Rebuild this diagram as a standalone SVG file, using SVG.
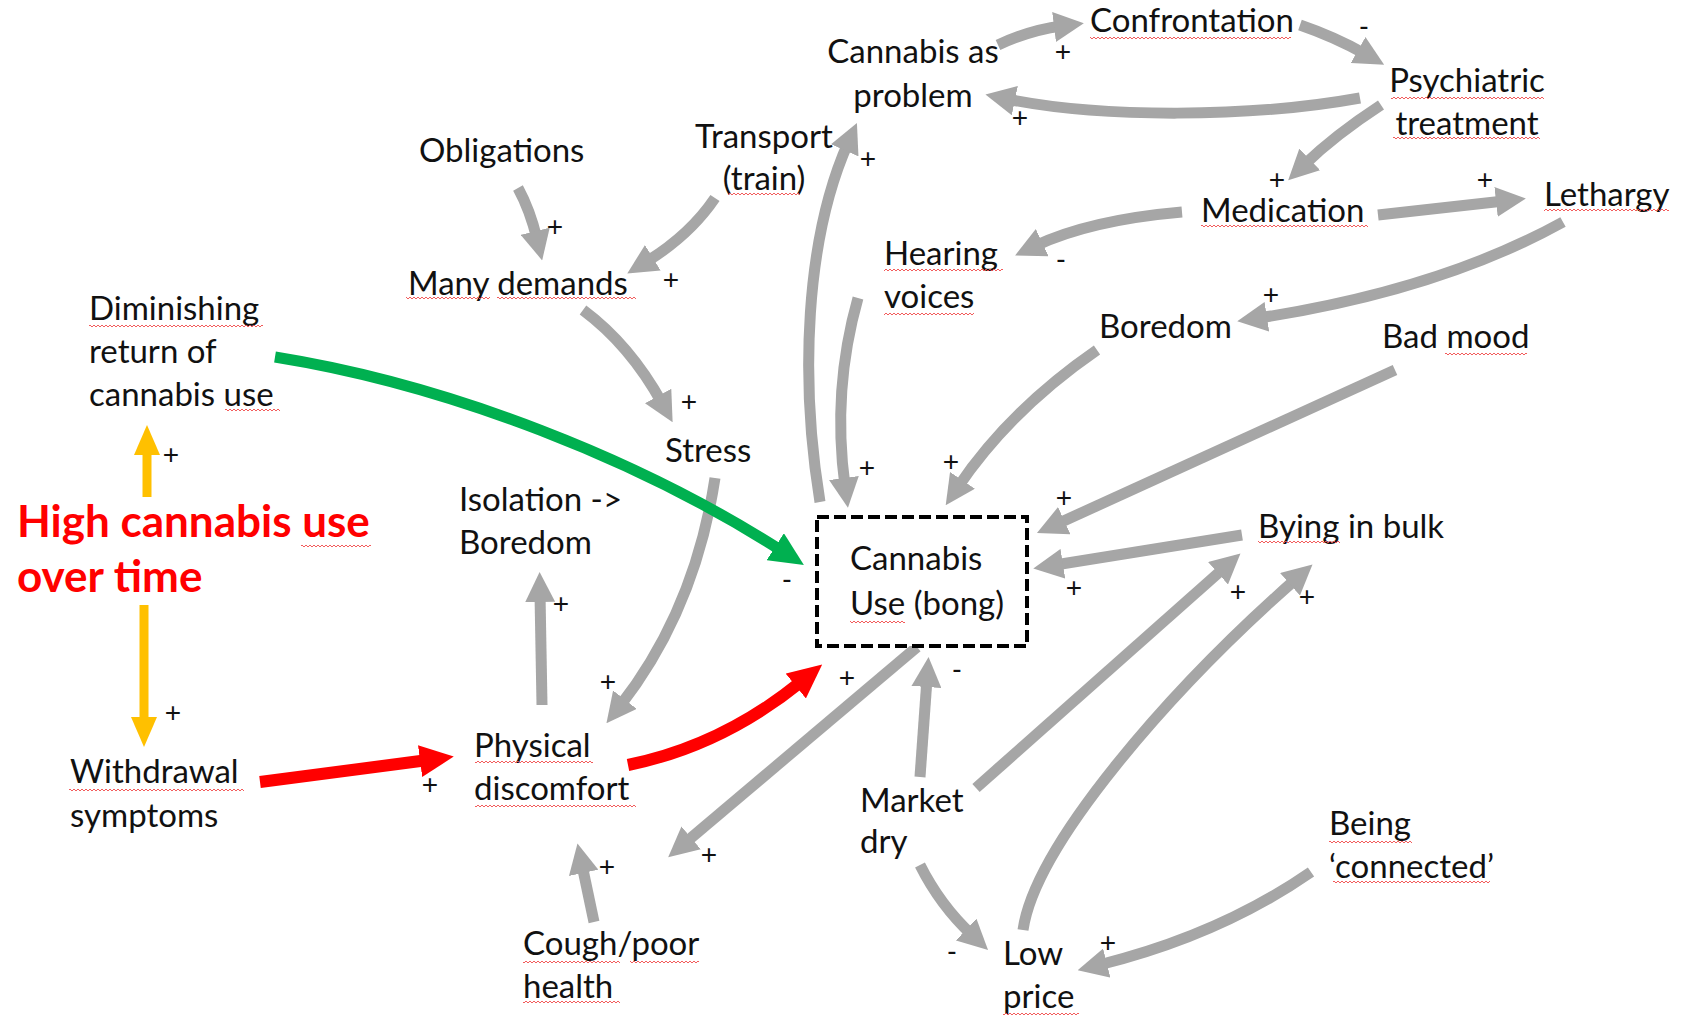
<svg xmlns="http://www.w3.org/2000/svg" width="1683" height="1018" viewBox="0 0 1683 1018">
  <style>
    .t { font-family: Lato, "Liberation Sans", sans-serif; font-size: 33px; fill: #111; }
    .c { text-anchor: middle; }
    .s { font-family: "Liberation Sans", sans-serif; font-size: 28px; fill: #111; text-anchor: middle; }
    .hot { font-family: Lato, "Liberation Sans", sans-serif; font-size: 44px; font-weight: bold; fill: #ff0000; }
    .g { fill: none; stroke: #a6a6a6; stroke-width: 11; marker-end: url(#ah-gray); }
    .red { fill: none; stroke: #ff0000; stroke-width: 12; marker-end: url(#ah-red); }
    .grn { fill: none; stroke: #00b050; stroke-width: 11; marker-end: url(#ah-green); }
    .yel { fill: none; stroke: #ffc000; stroke-width: 9; marker-end: url(#ah-yellow); }
    .sq { fill: url(#squiggle); }
  </style>
  <defs>
    <marker id="ah-gray" markerUnits="userSpaceOnUse" viewBox="0 0 30 30" markerWidth="30" markerHeight="30" refX="8" refY="15" orient="auto">
      <path d="M0,0 L30,15 L0,30 z" fill="#a6a6a6"/>
    </marker>
    <marker id="ah-red" markerUnits="userSpaceOnUse" viewBox="0 0 34 32" markerWidth="34" markerHeight="32" refX="8" refY="16" orient="auto">
      <path d="M0,0 L34,16 L0,32 z" fill="#ff0000"/>
    </marker>
    <marker id="ah-green" markerUnits="userSpaceOnUse" viewBox="0 0 34 32" markerWidth="34" markerHeight="32" refX="8" refY="16" orient="auto">
      <path d="M0,0 L34,16 L0,32 z" fill="#00b050"/>
    </marker>
    <marker id="ah-yellow" markerUnits="userSpaceOnUse" viewBox="0 0 30 26" markerWidth="30" markerHeight="26" refX="6" refY="13" orient="auto">
      <path d="M0,0 L30,13 L0,26 z" fill="#ffc000"/>
    </marker>
    <!-- spell-check style wavy underline -->
    <pattern id="squiggle" patternUnits="userSpaceOnUse" width="4" height="4">
      <path d="M0,3 L2,1 L4,3" fill="none" stroke="#f04a4a" stroke-width="0.9"/>
    </pattern>
  </defs>

  <rect width="1683" height="1018" fill="#ffffff"/>

  <!-- causal links -->
  <g id="connectors">
    <path class="g" d="M998,45 Q1030,30 1062,26"/>
    <path class="g" d="M1300,25 Q1335,37 1365,54"/>
    <path class="g" d="M1360,98 C1250,118 1100,118 1007,99"/>
    <path class="g" d="M1381,105 Q1335,135 1304,165"/>
    <path class="g" d="M1378,215 L1504,201"/>
    <path class="g" d="M1563,222 Q1440,290 1259,318"/>
    <path class="g" d="M1182,212 Q1090,220 1035,246"/>
    <path class="g" d="M518,188 Q530,210 537,239"/>
    <path class="g" d="M715,198 Q690,235 646,262"/>
    <path class="g" d="M583,310 Q630,345 662,403"/>
    <path class="g" d="M715,478 Q695,610 620,706"/>
    <path class="g" d="M542,705 L540,594"/>
    <path class="g" d="M594,922 L582,865"/>
    <path class="g" d="M917,647 L685,843"/>
    <path class="g" d="M820,502 C800,380 805,240 848,143"/>
    <path class="g" d="M858,298 Q832,390 845,486"/>
    <path class="g" d="M1097,350 Q1010,410 958,487"/>
    <path class="g" d="M1395,370 L1057,524"/>
    <path class="g" d="M1242,535 L1055,565"/>
    <path class="g" d="M920,777 L927,679"/>
    <path class="g" d="M976,788 L1224,568"/>
    <path class="g" d="M1023,930 C1035,845 1170,690 1296,579"/>
    <path class="g" d="M920,865 Q940,905 972,935"/>
    <path class="g" d="M1311,872 Q1220,935 1099,965"/>
    <path class="red" d="M260,782 L428,760"/>
    <path class="red" d="M628,765 Q722,746 802,681"/>
    <path class="grn" d="M275,357 C450,385 640,460 782,551"/>
    <path class="yel" d="M147,497 L147,449"/>
    <path class="yel" d="M144,605 L144,723"/>
  </g>

  <!-- link polarities -->
  <g id="polarities">
    <text class="s" x="1063" y="61">+</text>
    <text class="s" x="1364" y="35">-</text>
    <text class="s" x="1020" y="127">+</text>
    <text class="s" x="1277" y="189">+</text>
    <text class="s" x="1485" y="189">+</text>
    <text class="s" x="1271" y="304">+</text>
    <text class="s" x="1061" y="268">-</text>
    <text class="s" x="868" y="168">+</text>
    <text class="s" x="555" y="236">+</text>
    <text class="s" x="671" y="289">+</text>
    <text class="s" x="689" y="411">+</text>
    <text class="s" x="867" y="477">+</text>
    <text class="s" x="951" y="471">+</text>
    <text class="s" x="1064" y="507">+</text>
    <text class="s" x="1074" y="597">+</text>
    <text class="s" x="787" y="588">-</text>
    <text class="s" x="847" y="687">+</text>
    <text class="s" x="957" y="678">-</text>
    <text class="s" x="1238" y="601">+</text>
    <text class="s" x="1307" y="606">+</text>
    <text class="s" x="171" y="464">+</text>
    <text class="s" x="173" y="722">+</text>
    <text class="s" x="430" y="794">+</text>
    <text class="s" x="608" y="691">+</text>
    <text class="s" x="561" y="613">+</text>
    <text class="s" x="607" y="876">+</text>
    <text class="s" x="709" y="864">+</text>
    <text class="s" x="952" y="960">-</text>
    <text class="s" x="1108" y="952">+</text>
  </g>

  <g id="cannabis-use">
    <rect x="817" y="517" width="210" height="129" fill="#ffffff" stroke="#000" stroke-width="4" stroke-dasharray="12 5"/>
    <text class="t" x="850" y="570">Cannabis</text>
    <text class="t" x="850" y="615">Use (bong)</text>
    <rect class="sq" x="850" y="620" width="55" height="4"/>
  </g>
  <g id="cannabis-as-problem">
    <text class="t c" x="913" y="63">Cannabis as</text>
    <text class="t c" x="913" y="107">problem</text>
  </g>
  <g id="confrontation">
    <text class="t" x="1090" y="32">Confrontation</text>
    <rect class="sq" x="1090" y="36" width="201" height="4"/>
  </g>
  <g id="psychiatric-treatment">
    <text class="t c" x="1467" y="92">Psychiatric</text>
    <text class="t c" x="1467" y="135">treatment</text>
    <rect class="sq" x="1391" y="96" width="153" height="4"/>
    <rect class="sq" x="1393" y="136" width="147" height="4"/>
  </g>
  <g id="medication">
    <text class="t" x="1201" y="222">Medication</text>
    <rect class="sq" x="1201" y="224" width="167" height="4"/>
  </g>
  <g id="lethargy">
    <text class="t" x="1544" y="206">Lethargy</text>
    <rect class="sq" x="1544" y="208" width="125" height="4"/>
  </g>
  <g id="hearing-voices">
    <text class="t" x="884" y="265">Hearing</text>
    <text class="t" x="884" y="308">voices</text>
    <rect class="sq" x="884" y="268" width="119" height="4"/>
    <rect class="sq" x="884" y="312" width="90" height="4"/>
  </g>
  <g id="boredom">
    <text class="t" x="1099" y="338">Boredom</text>
  </g>
  <g id="bad-mood">
    <text class="t" x="1382" y="348">Bad mood</text>
    <rect class="sq" x="1445" y="352" width="82" height="4"/>
  </g>
  <g id="bying-in-bulk">
    <text class="t" x="1258" y="538">Bying in bulk</text>
    <rect class="sq" x="1258" y="540" width="82" height="4"/>
  </g>
  <g id="obligations">
    <text class="t" x="419" y="162">Obligations</text>
  </g>
  <g id="transport">
    <text class="t c" x="764" y="148">Transport</text>
    <text class="t c" x="764" y="190">(train)</text>
    <rect class="sq" x="728" y="192" width="72" height="4"/>
  </g>
  <g id="many-demands">
    <text class="t" x="408" y="295">Many demands</text>
    <rect class="sq" x="406" y="296" width="84" height="4"/>
    <rect class="sq" x="497" y="296" width="139" height="4"/>
  </g>
  <g id="stress">
    <text class="t" x="665" y="462">Stress</text>
  </g>
  <g id="diminishing-return">
    <text class="t" x="89" y="320">Diminishing</text>
    <text class="t" x="89" y="363">return of</text>
    <text class="t" x="89" y="406">cannabis use</text>
    <rect class="sq" x="89" y="324" width="174" height="4"/>
    <rect class="sq" x="225" y="408" width="55" height="4"/>
  </g>
  <g id="high-cannabis-use">
    <text class="hot" x="17" y="537">High cannabis use</text>
    <text class="hot" x="17" y="592">over time</text>
    <rect class="sq" x="301" y="544" width="70" height="4"/>
  </g>
  <g id="isolation-boredom">
    <text class="t" x="459" y="511">Isolation -&gt;</text>
    <text class="t" x="459" y="554">Boredom</text>
  </g>
  <g id="withdrawal-symptoms">
    <text class="t" x="70" y="783">Withdrawal</text>
    <text class="t" x="70" y="827">symptoms</text>
    <rect class="sq" x="69" y="788" width="175" height="4"/>
  </g>
  <g id="physical-discomfort">
    <text class="t" x="474" y="757">Physical</text>
    <text class="t" x="474" y="800">discomfort</text>
    <rect class="sq" x="475" y="760" width="118" height="4"/>
    <rect class="sq" x="475" y="804" width="161" height="4"/>
  </g>
  <g id="cough-poor-health">
    <text class="t" x="523" y="955">Cough/poor</text>
    <text class="t" x="523" y="998">health</text>
    <rect class="sq" x="523" y="960" width="97" height="4"/>
    <rect class="sq" x="630" y="960" width="69" height="4"/>
    <rect class="sq" x="523" y="1000" width="97" height="4"/>
  </g>
  <g id="market-dry">
    <text class="t" x="860" y="812">Market</text>
    <text class="t" x="860" y="853">dry</text>
  </g>
  <g id="low-price">
    <text class="t" x="1003" y="965">Low</text>
    <text class="t" x="1003" y="1008">price</text>
    <rect class="sq" x="1003" y="1012" width="76" height="4"/>
  </g>
  <g id="being-connected">
    <text class="t" x="1329" y="835">Being</text>
    <text class="t" x="1329" y="878">‘connected’</text>
    <rect class="sq" x="1329" y="840" width="83" height="4"/>
    <rect class="sq" x="1333" y="880" width="157" height="4"/>
  </g>
</svg>
